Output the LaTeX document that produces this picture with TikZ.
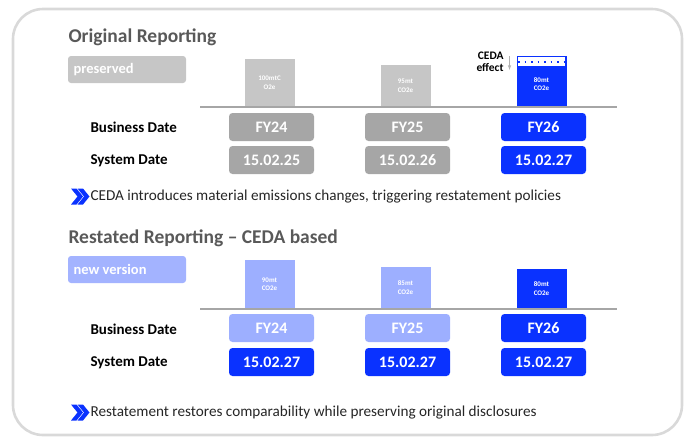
\documentclass[tikz,border=0pt]{standalone}
\usepackage{fontspec}
\setmainfont{Carlito}
\usetikzlibrary{positioning}

\definecolor{framegray}{HTML}{D9D9D9}
\definecolor{titlegray}{HTML}{595959}
\definecolor{boxgray}{HTML}{A6A6A6}
\definecolor{bargray}{HTML}{C6C6C6}
\definecolor{tagblue}{HTML}{A3B3FF}
\definecolor{lightblue}{HTML}{9DAFFF}
\definecolor{ceblue}{HTML}{0A32FF}

\tikzset{
  title/.style={anchor=west, text=titlegray, font=\bfseries\fontsize{19.5}{22}\selectfont},
  tag/.style={rounded corners=3pt, minimum width=118pt, minimum height=27pt, inner sep=0},
  tagtext/.style={anchor=west, text=white, font=\bfseries\fontsize{14.5}{16}\selectfont},
  datebox/.style={rounded corners=3.5pt, minimum width=85pt, minimum height=28pt, inner sep=0,
    text=white, font=\bfseries\fontsize{16}{18}\selectfont},
  rowlabel/.style={anchor=west, font=\bfseries\fontsize{15}{17}\selectfont},
  bar/.style={anchor=south, minimum width=50pt, inner sep=0, align=center, text=white,
    font=\bfseries\fontsize{7}{8.5}\selectfont},
  axis/.style={draw=boxgray, line width=1.6pt},
  note/.style={anchor=west, text=black!85, font=\fontsize{15.2}{17}\selectfont},
}

\newcommand{\chevrons}[2]{%
  \fill[ceblue] (#1,#2-8) -- ++(5.5,0) -- ++(6.5,8) -- ++(-6.5,8) -- ++(-5.5,0) -- ++(6.5,-8) -- cycle;
  \fill[ceblue] (#1+6.5,#2-8) -- ++(5.5,0) -- ++(6.5,8) -- ++(-6.5,8) -- ++(-5.5,0) -- ++(6.5,-8) -- cycle;}

\begin{document}
\begin{tikzpicture}[x=1pt, y=-1pt, >=latex]
  \useasboundingbox (0,0) rectangle (688,437);
  \draw[framegray, line width=2.6pt, rounded corners=30pt] (13,9) rectangle (682,435);

  % original reporting
  \node[title] (orig) at (65,37) {Original Reporting};
  \node[tag, fill=bargray] (pres) at (127,69.5) {};
  \node[tagtext] at (70,69.5) {preserved};

  \node[bar, fill=bargray, minimum height=48pt] (o24) at (269.5,107) {100mtC\\O2e};
  \node[bar, fill=bargray, minimum height=42pt] (o25) at (405.5,107) {95mt\\CO2e};
  \node[bar, fill=ceblue, minimum height=51pt, text depth=0pt] (o26) at (541.5,107) {\\[2pt]80mt\\CO2e};
  \fill[white] (518,57) rectangle (565,66);
  \draw[ceblue, line width=2pt, dash pattern=on 1.5pt off 5pt] (518,61.5) -- (565,61.5);
  \node[align=right, font=\bfseries\fontsize{11.5}{12.5}\selectfont, inner sep=0] (ceda) at (490,62) {CEDA\\effect};
  \draw[->, black!30, line width=0.6pt] (509.5,56) -- (509.5,70);
  \draw[axis] (200,107) -- (617,107);

  \node[rowlabel] (bd1) at (87,127.5) {Business Date};
  \node[rowlabel] (sd1) at (87,161) {System Date};
  \node[datebox, fill=boxgray] (f24) at (271.5,127) {FY24};
  \node[datebox, fill=boxgray] (f25) at (407.5,127) {FY25};
  \node[datebox, fill=ceblue] (f26) at (543.5,127) {FY26};
  \node[datebox, fill=boxgray] (s24) at (271.5,160) {15.02.25};
  \node[datebox, fill=boxgray] (s25) at (407.5,160) {15.02.26};
  \node[datebox, fill=ceblue] (s26) at (543.5,160) {15.02.27};

  \chevrons{71}{196.5}
  \node[note] (msg1) at (87,197) {CEDA introduces material emissions changes, triggering restatement policies};

  % restated reporting
  \node[title] (rest) at (65,238.5) {Restated Reporting -- CEDA based};
  \node[tag, fill=tagblue] (newv) at (127,269.5) {};
  \node[tagtext] at (70,269.5) {new version};

  \node[bar, fill=lightblue, minimum height=49pt] (r24) at (269.5,309) {90mt\\CO2e};
  \node[bar, fill=lightblue, minimum height=42pt] (r25) at (405.5,309) {85mt\\CO2e};
  \node[bar, fill=ceblue, minimum height=40pt] (r26) at (541.5,309) {80mt\\CO2e};
  \draw[axis] (200,309) -- (617,309);

  \node[rowlabel] (bd2) at (87,329) {Business Date};
  \node[rowlabel] (sd2) at (87,363) {System Date};
  \node[datebox, fill=lightblue] (g24) at (271.5,328) {FY24};
  \node[datebox, fill=lightblue] (g25) at (407.5,328) {FY25};
  \node[datebox, fill=ceblue] (g26) at (543.5,328) {FY26};
  \node[datebox, fill=ceblue] (t24) at (271.5,362) {15.02.27};
  \node[datebox, fill=ceblue] (t25) at (407.5,362) {15.02.27};
  \node[datebox, fill=ceblue] (t26) at (543.5,362) {15.02.27};

  \chevrons{71}{412.5}
  \node[note] (msg2) at (87,413) {Restatement restores comparability while preserving original disclosures};
\end{tikzpicture}
\end{document}
